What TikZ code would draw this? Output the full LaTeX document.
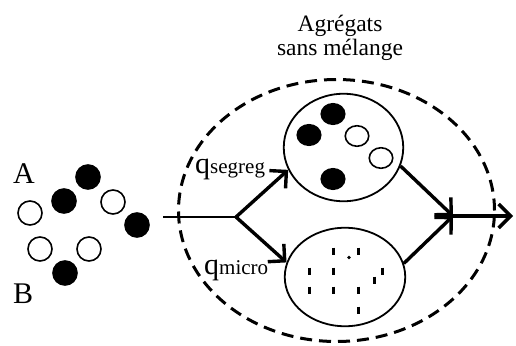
\documentclass[tikz,border=0pt]{standalone}
\usepackage{fontspec}
\setmainfont{Liberation Serif}
\usetikzlibrary{arrows.meta, shapes.geometric, positioning}

\begin{document}
\begin{tikzpicture}[x=1pt,y=-1pt,
    wht/.style={circle,draw,line width=1.6pt,inner sep=0pt,minimum size=24pt},
    blk/.style={wht,fill=black},
    iwht/.style={ellipse,draw,line width=1.6pt,inner sep=0pt,
                 minimum width=23.5pt,minimum height=20.5pt},
    iblk/.style={iwht,fill=black},
    pool/.style={ellipse,draw,line width=1.8pt,inner sep=0pt},
    arr/.style={-{Straight Barb[length=12pt,width=24pt]},line width=3.4pt},
    tick/.style={line width=3pt},
    lbl/.style={anchor=base west,inner sep=0pt}
  ]
  \useasboundingbox (0,0) rectangle (516,345);
  % feed
  \foreach \x/\y [count=\i] in {88/177,64/201,137/225,65/273}
    \node[blk] (a\i) at (\x,\y) {};
  \foreach \x/\y [count=\i] in {30/213,113/202,40/249,89/249}
    \node[wht] (b\i) at (\x,\y) {};
  \node[lbl,font=\fontsize{30}{32}\selectfont] (lA) at (13,183) {A};
  \node[lbl,font=\fontsize{30}{32}\selectfont] (lB) at (13,303) {B};
  % reactor
  \node[ellipse,draw,line width=3pt,dash pattern=on 12pt off 7pt,
        minimum width=316pt,minimum height=262pt] (mix) at (336.5,210.5) {};
  \node[pool,minimum width=119.5pt,minimum height=107.5pt] (segreg) at (343.5,147.5) {};
  \node[pool,minimum width=120.5pt,minimum height=98.5pt] (micro) at (345,277) {};
  \node[align=center,font=\fontsize{23.5}{24}\selectfont,inner sep=0pt] (title) at (340,38)
    {Agrégats\\sans mélange};
  \foreach \x/\y [count=\i] in {333/114,309/135,333/179}
    \node[iblk] (s\i) at (\x,\y) {};
  \foreach \x/\y [count=\i] in {357/136,381/158}
    \node[iwht] (w\i) at (\x,\y) {};
  \foreach \x/\y in {333/251,358/251,309/271,333/271,382/271,374/280,
                     309/290,333/290,358/290,358/310}
    \draw[tick] (\x,\y-3.5) -- (\x,\y+3.5);
  \fill (349,257.5) circle (1.8);
  % flows
  \coordinate (inlet) at (163,217);
  \coordinate (split) at (236,217);
  \coordinate (merge) at (453,216);
  \coordinate (outlet) at (513,216);
  \draw[line width=1.7pt] (inlet) -- (split);
  \draw[arr] (split) -- (segreg.202);
  \draw[arr] (split) -- (micro.166);
  \draw[arr] (segreg.342) -- (merge);
  \draw[arr] (micro.13) -- (merge);
  \draw[arr] (merge) -- (outlet);
  \node[lbl] (qs) at (195,173)
    {{\fontsize{30}{32}\selectfont q}{\fontsize{21}{24}\selectfont segreg}};
  \node[lbl] (qm) at (204,274)
    {{\fontsize{30}{32}\selectfont q}{\fontsize{21}{24}\selectfont micro}};
\end{tikzpicture}
\end{document}
